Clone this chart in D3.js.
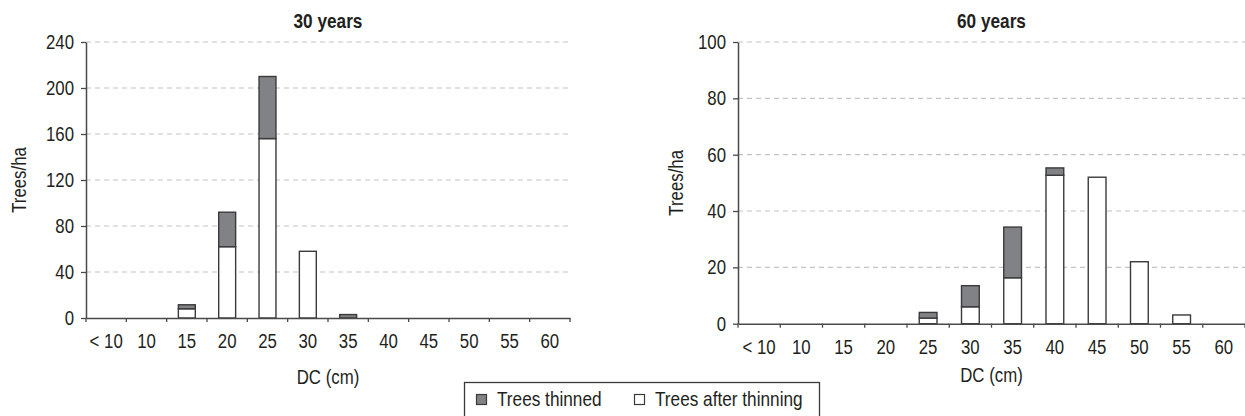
<!DOCTYPE html>
<html>
<head>
<meta charset="utf-8">
<script src="https://cdn.jsdelivr.net/npm/d3@7"></script>
<style>
	body { margin: 0; background: #fff; }
	svg text { font-family: "Liberation Sans Narrow", "Arial Narrow", "Liberation Sans", sans-serif; fill: #231f20; }
</style>
</head>
<body>
<svg width="1245" height="416"></svg>
<script>
var categories = ["< 10", "10", "15", "20", "25", "30", "35", "40", "45", "50", "55", "60"];

// 30 years
var after30 = [0, 0, 8, 62, 156, 58, 0, 0, 0, 0, 0, 0];
var thinned30 = [0, 0, 3.5, 30, 54, 0, 3, 0, 0, 0, 0, 0];
var yTicks30 = [0, 40, 80, 120, 160, 200, 240];

// 60 years
var after60 = [0, 0, 0, 0, 2, 6, 16.3, 52.7, 52, 22, 3.1, 0];
var thinned60 = [0, 0, 0, 0, 2, 7.5, 18, 2.6, 0, 0, 0, 0];
var yTicks60 = [0, 20, 40, 60, 80, 100];

var NARROW = 0.82; // no narrow font installed, squeeze the regular one
var svg = d3.select("svg");

// squeeze text horizontally keeping its anchor point in place
function narrow(sel) {
	sel.each(function() {
		var t = d3.select(this);
		var x = +(t.attr("x") || 0);
		var tr = t.attr("transform");
		t.attr("x", x / NARROW)
			.attr("transform", (tr ? tr + " " : "") + "scale(" + NARROW + ",1)");
	});
}

function drawPanel(opt) {
	var x = d3.scaleBand().domain(categories).range([opt.left, opt.right]).paddingInner(0.58).paddingOuter(0.29);
	var y = d3.scaleLinear().domain([0, opt.max]).range([opt.bottom, opt.top]);
	var g = svg.append("g");

	// dashed grid
	g.selectAll(".grid")
		.data(opt.ticks.filter(function(d) { return d > 0; }))
		.enter().append("line")
		.attr("x1", opt.left)
		.attr("x2", opt.right)
		.attr("y1", function(d) { return y(d); })
		.attr("y2", function(d) { return y(d); })
		.attr("stroke", "#c4c4c4")
		.attr("stroke-width", 1.2)
		.attr("stroke-dasharray", "5,4");

	var bars = g.selectAll(".bar")
		.data(categories.map(function(c, i) { return { c: c, a: opt.after[i], t: opt.thinned[i] }; }))
		.enter();

	bars.filter(function(d) { return d.a > 0; }).append("rect")
		.attr("x", function(d) { return x(d.c); })
		.attr("width", x.bandwidth())
		.attr("y", function(d) { return y(d.a); })
		.attr("height", function(d) { return y(0) - y(d.a); })
		.attr("fill", "#fff")
		.attr("stroke", "#3a3a3a")
		.attr("stroke-width", 1.4);

	bars.filter(function(d) { return d.t > 0; }).append("rect")
		.attr("x", function(d) { return x(d.c); })
		.attr("width", x.bandwidth())
		.attr("y", function(d) { return y(d.a + d.t); })
		.attr("height", function(d) { return y(d.a) - y(d.a + d.t); })
		.attr("fill", "#808285")
		.attr("stroke", "#3a3a3a")
		.attr("stroke-width", 1.4);

	// y axis
	var ya = g.append("g")
		.attr("transform", "translate(" + opt.left + ",0)")
		.call(d3.axisLeft(y).tickValues(opt.ticks).tickSize(5).tickPadding(7).tickSizeOuter(0));
	ya.select(".domain").attr("stroke", "#4a4a4a").attr("stroke-width", 1.5);
	ya.selectAll(".tick line").attr("stroke", "#4a4a4a").attr("stroke-width", 1.3);
	ya.selectAll("text").attr("font-size", "20.5px").attr("font-family", null).call(narrow);

	// x axis (labels at centers, ticks at boundaries)
	var xa = g.append("g")
		.attr("transform", "translate(0," + opt.bottom + ")")
		.call(d3.axisBottom(x).tickSize(0).tickPadding(opt.labelPad).tickSizeOuter(0));
	xa.select(".domain").attr("stroke", "#4a4a4a").attr("stroke-width", 1.5);
	xa.selectAll("text").attr("font-size", "20.5px").attr("font-family", null).call(narrow);
	var step = x.step();
	g.selectAll(".xtick")
		.data(d3.range(categories.length + 1))
		.enter().append("line")
		.attr("x1", function(i) { return opt.left + i * step; })
		.attr("x2", function(i) { return opt.left + i * step; })
		.attr("y1", opt.bottom)
		.attr("y2", opt.bottom + 4)
		.attr("stroke", "#4a4a4a")
		.attr("stroke-width", 1.3);

	g.append("text")
		.attr("x", (opt.left + opt.right) / 2)
		.attr("y", 28)
		.attr("text-anchor", "middle")
		.attr("font-size", "21px")
		.attr("font-weight", "bold")
		.text(opt.title)
		.call(narrow);

	g.append("text")
		.attr("x", (opt.left + opt.right) / 2)
		.attr("y", opt.dcY)
		.attr("text-anchor", "middle")
		.attr("font-size", "20.5px")
		.text("DC (cm)")
		.call(narrow);

	g.append("text")
		.attr("transform", "translate(" + opt.ylabX + "," + ((opt.top + opt.bottom) / 2) + ") rotate(-90)")
		.attr("text-anchor", "middle")
		.attr("font-size", "20.5px")
		.text("Trees/ha")
		.call(narrow);
}

drawPanel({ left: 86, right: 570, top: 42, bottom: 318, max: 240, ticks: yTicks30,
	after: after30, thinned: thinned30, title: "30 years", labelPad: 15, dcY: 384, ylabX: 26 });
drawPanel({ left: 738, right: 1245, top: 42, bottom: 323.7, max: 100, ticks: yTicks60,
	after: after60, thinned: thinned60, title: "60 years", labelPad: 16, dcY: 382, ylabX: 683 });

// legend
var legend = svg.append("g");
legend.append("rect")
	.attr("x", 464.5).attr("y", 382.5).attr("width", 355).attr("height", 40)
	.attr("fill", "#fff").attr("stroke", "#3a3a3a").attr("stroke-width", 1.3);
var items = [
	{ label: "Trees thinned", fill: "#808285", x: 476 },
	{ label: "Trees after thinning", fill: "#fff", x: 634 }
];
items.forEach(function(it) {
	legend.append("rect")
		.attr("x", it.x + 0.5).attr("y", 394.5).attr("width", 10).attr("height", 10)
		.attr("fill", it.fill).attr("stroke", "#3a3a3a").attr("stroke-width", 1.2);
	legend.append("text")
		.attr("x", it.x + 21).attr("y", 406)
		.attr("font-size", "21px")
		.text(it.label)
		.call(narrow);
});
</script>
</body>
</html>
